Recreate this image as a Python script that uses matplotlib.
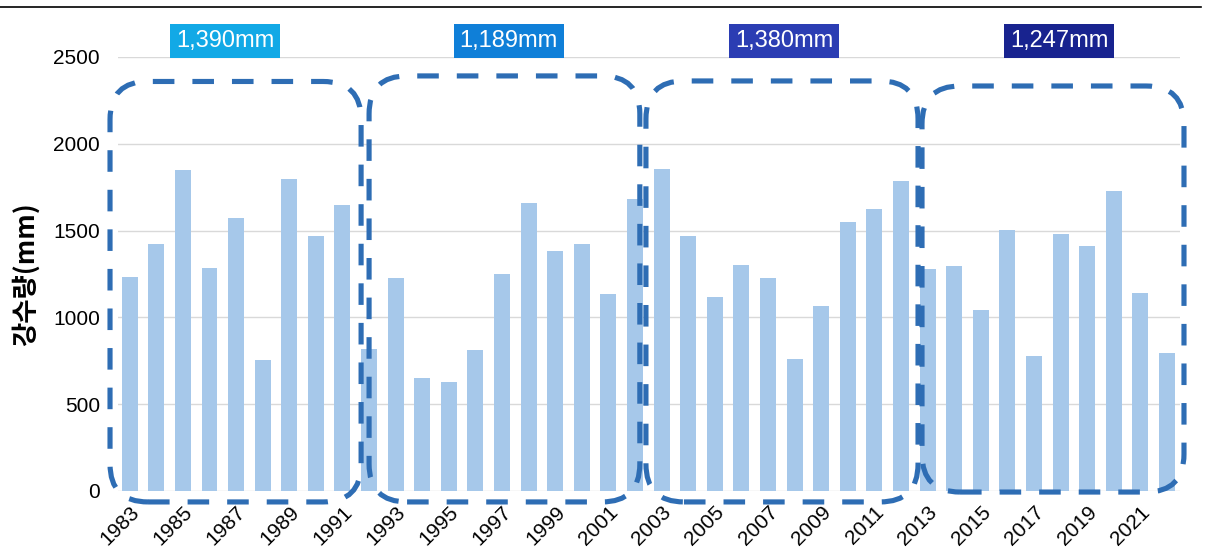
import numpy as np
import matplotlib
matplotlib.use("Agg")
import matplotlib.pyplot as plt
from matplotlib.patches import FancyBboxPatch
from matplotlib.lines import Line2D
from matplotlib.transforms import IdentityTransform

plt.rcParams['font.family'] = ['Liberation Sans', 'DejaVu Sans']

# annual rainfall (mm), 1983-2022
years = list(range(1983, 2023))
rain = [1234, 1421, 1848, 1285, 1570, 753, 1798, 1470, 1649, 820,
        1228, 651, 627, 810, 1252, 1661, 1384, 1421, 1132, 1680,
        1855, 1470, 1116, 1303, 1226, 763, 1065, 1547, 1623, 1787,
        1278, 1295, 1040, 1502, 778, 1478, 1413, 1730, 1140, 796]

# decade means shown above each group
means = ["1,390mm", "1,189mm", "1,380mm", "1,247mm"]
mean_colors = ["#12A9E6", "#0F7FD8", "#2B3DB3", "#18238F"]
mean_x = [3.6, 14.25, 24.6, 34.95]

# dashed group frames (x in bar index units, y in mm)
frames = [(-0.74, 8.70, -63, 2359),
          (9.00, 19.18, -63, 2391),
          (19.41, 29.64, -63, 2362),
          (29.79, 39.64, -6, 2333)]

fig = plt.figure(figsize=(12.06, 5.55), dpi=100)
ax = fig.add_axes([118 / 1206, 1 - 491 / 555, (1180 - 118) / 1206, (491 - 57) / 555])

x = np.arange(len(years))
ax.bar(x, rain, width=0.6, color="#A6C8EA", zorder=2)

ax.set_xlim(-0.44, 39.49)
ax.set_ylim(0, 2500)
ax.set_yticks([0, 500, 1000, 1500, 2000, 2500])
ax.yaxis.grid(True, color="#D9D9D9", linewidth=1)
ax.set_axisbelow(True)
for s in ax.spines.values():
    s.set_visible(False)

ax.set_xticks(x[::2])
ax.set_xticklabels([str(y) for y in years[::2]], rotation=45, ha="right",
                   rotation_mode="anchor", fontsize=15)
ax.tick_params(axis="x", length=0, pad=8)
ax.tick_params(axis="y", length=0, pad=13, labelsize=15)

ax.set_ylabel("강수량(mm)", family=["Noto Sans CJK KR", "DejaVu Sans"],
              fontsize=19, fontweight="bold")
ax.yaxis.set_label_coords(-0.074, 0.5)

for lab, col, mx in zip(means, mean_colors, mean_x):
    ax.text(mx, 2590, lab, ha="center", va="center", color="white", fontsize=17,
            clip_on=False,
            bbox=dict(boxstyle="square,pad=0.25", fc=col, ec="none"))

# draw rounded dashed frames in pixel space so corners stay circular
fig.canvas.draw()
for x0, x1, y0, y1 in frames:
    (px0, py0), (px1, py1) = ax.transData.transform([(x0, y0), (x1, y1)])
    patch = FancyBboxPatch((px0, py0), px1 - px0, py1 - py0,
                           boxstyle="round,pad=0,rounding_size=38",
                           transform=IdentityTransform(), fill=False,
                           ec="#2E6DB4", lw=3.7, linestyle=(0, (4.2, 3.5)),
                           zorder=5)
    fig.add_artist(patch)

fig.add_artist(Line2D([0, 1201 / 1206], [1 - 7 / 555, 1 - 7 / 555],
                      transform=fig.transFigure, color="black", lw=1.2))

fig.savefig("out.png", dpi=100)
